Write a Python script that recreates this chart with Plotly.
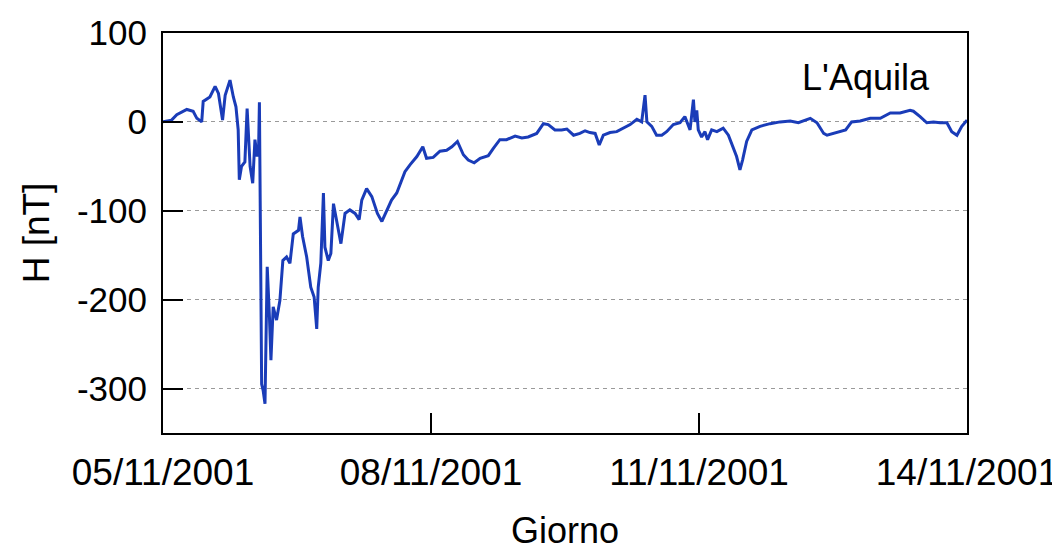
#!/usr/bin/python3
# -*- coding: utf-8 -*-

import pandas as pd
import plotly.graph_objs as go

# ore trascorse dal 05/11/2001 00:00
hours = [0.0, 2.3, 3.7, 6.4, 8.1, 9.1, 10.4, 10.8, 12.6, 14.0, 14.9, 16.0, 16.7, 18.0, 18.9, 19.6,
         20.2, 20.5, 21.1, 22.0, 22.6, 23.4, 24.1, 24.7, 25.3, 25.7, 25.9, 26.1, 26.2, 26.5, 26.9,
         27.4, 27.7, 28.0, 28.6, 29.0, 29.6, 30.5, 31.4, 32.2, 33.2, 34.1, 35.0, 36.4, 36.8, 37.5,
         38.6, 39.7, 40.6, 41.3, 41.7, 42.4, 43.1, 43.5, 44.4, 45.1, 45.8, 46.7, 47.8, 48.9, 50.2,
         51.6, 52.7, 53.4, 54.7, 56.1, 57.6, 58.8, 60.1, 61.4, 62.8, 63.7, 65.0, 66.4, 68.2, 69.8,
         70.8, 72.6, 74.4, 76.2, 77.6, 79.1, 80.7, 82.0, 83.6, 85.2, 87.4, 88.7, 90.5, 92.3, 94.6,
         96.4, 98.1, 100.4, 102.2, 103.5, 105.3, 107.1, 108.5, 110.3, 112.0, 113.4, 114.7, 116.1,
         117.2, 118.3, 120.1, 121.9, 123.7, 125.5, 127.3, 128.6, 129.5, 130.0, 131.3, 132.6, 134.0,
         135.3, 137.1, 138.9, 140.2, 141.1, 141.6, 142.5, 142.9, 143.4, 143.8, 144.7, 145.6, 146.3,
         147.4, 148.8, 150.5, 151.9, 153.2, 154.1, 155.0, 155.7, 156.8, 158.2, 160.4, 163.1, 165.8,
         168.5, 170.7, 173.9, 175.7, 177.5, 178.4, 181.1, 183.4, 185.0, 187.3, 190.0, 192.7, 195.4,
         198.0, 200.7, 201.6, 203.4, 205.2, 207.0, 208.8, 210.6, 211.9, 213.3, 214.6, 216.0]

# componente H [nT]
h_nt = [0, 2, 8, 14, 12, 4, 0, 23, 28, 40, 32, 2, 30, 47, 28, 17,
        -9, -65, -50, -45, 15, -50, -69, -20, -39, -26, 22, -99, -186, -295, -302,
        -317, -238, -163, -220, -268, -208, -223, -201, -156, -152, -159, -126, -122, -107, -129,
        -152, -186, -197, -233, -186, -159, -80, -141, -156, -148, -92, -112, -137, -103, -99,
        -103, -110, -88, -75, -84, -103, -112, -99, -88, -80, -70, -56, -48, -39, -28,
        -41, -40, -33, -32, -28, -22, -37, -43, -46, -41, -38, -30, -20, -20, -16,
        -18, -17, -13, -2, -3, -9, -9, -8, -15, -13, -10, -12, -13,
        -26, -15, -12, -11, -7, -3, 3, 0, 30, 0, -5, -15, -15,
        -11, -3, -1, 6, -3, -9, 25, 0, 13, -9, -17, -11, -20,
        -9, -11, -7, -15, -28, -39, -54, -43, -22, -9, -5, -2, 0,
        1, -1, 4, -1, -13, -15, -12, -9, 0, 1, 4, 4, 10,
        10, 13, 12, 6, -1, 0, -1, -1, -11, -15, -5, 2]

tick_dates = ['2001-11-05', '2001-11-08', '2001-11-11', '2001-11-14']
tick_labels = ['05/11/2001', '08/11/2001', '11/11/2001', '14/11/2001']
y_ticks = [100, 0, -100, -200, -300]
y_labels = ['100', '0', '-100', '-200', '-300']


def creating_line_graph():
    """
    :return: Plotly Line Graph
    """
    start = pd.Timestamp('2001-11-05')
    x = start + pd.to_timedelta(hours, unit='h')

    fig = go.Figure()
    fig.add_trace(go.Scatter(x=x, y=h_nt, mode='lines', showlegend=False,
                             line=dict(color='#1a3cb8', width=3)))

    fig.add_annotation(text="L'Aquila", xref='paper', yref='paper', x=0.957, y=0.888,
                       xanchor='right', yanchor='middle', showarrow=False,
                       font=dict(size=36, color='black'))

    # the page body has an 8px margin, so the margins are reduced by 8px
    fig.update_layout(
        width=1060, height=552,
        margin=dict(l=155, r=101, t=25, b=127),
        plot_bgcolor='white',
        paper_bgcolor='white',
        font=dict(family='Arial, Liberation Sans', size=34, color='black'),
        xaxis=dict(
            type='date',
            range=['2001-11-05', '2001-11-14'],
            tickvals=tick_dates, ticktext=tick_labels,
            tickfont=dict(size=37),
            ticks='inside', ticklen=20, tickwidth=1.5, tickcolor='black',
            ticklabelstandoff=6,
            showline=True, linecolor='black', linewidth=2, mirror=True,
            showgrid=False, zeroline=False, automargin=False,
            title=dict(text='Giorno', standoff=25, font=dict(size=36))
        ),
        yaxis=dict(
            range=[-350, 100],
            tickvals=y_ticks, ticktext=y_labels,
            tickfont=dict(size=35),
            ticks='inside', ticklen=20, tickwidth=1.5, tickcolor='black',
            ticklabelstandoff=7,
            showline=True, linecolor='black', linewidth=2, mirror=True,
            showgrid=True, gridcolor='#9a9a9a', gridwidth=1, griddash='4px,4px',
            zeroline=False, automargin=False,
            title=dict(text='H [nT]', standoff=16, font=dict(size=37))
        )
    )
    fig.write_html('out.html')


def main():
    creating_line_graph()


if __name__ == "__main__":
    main()
